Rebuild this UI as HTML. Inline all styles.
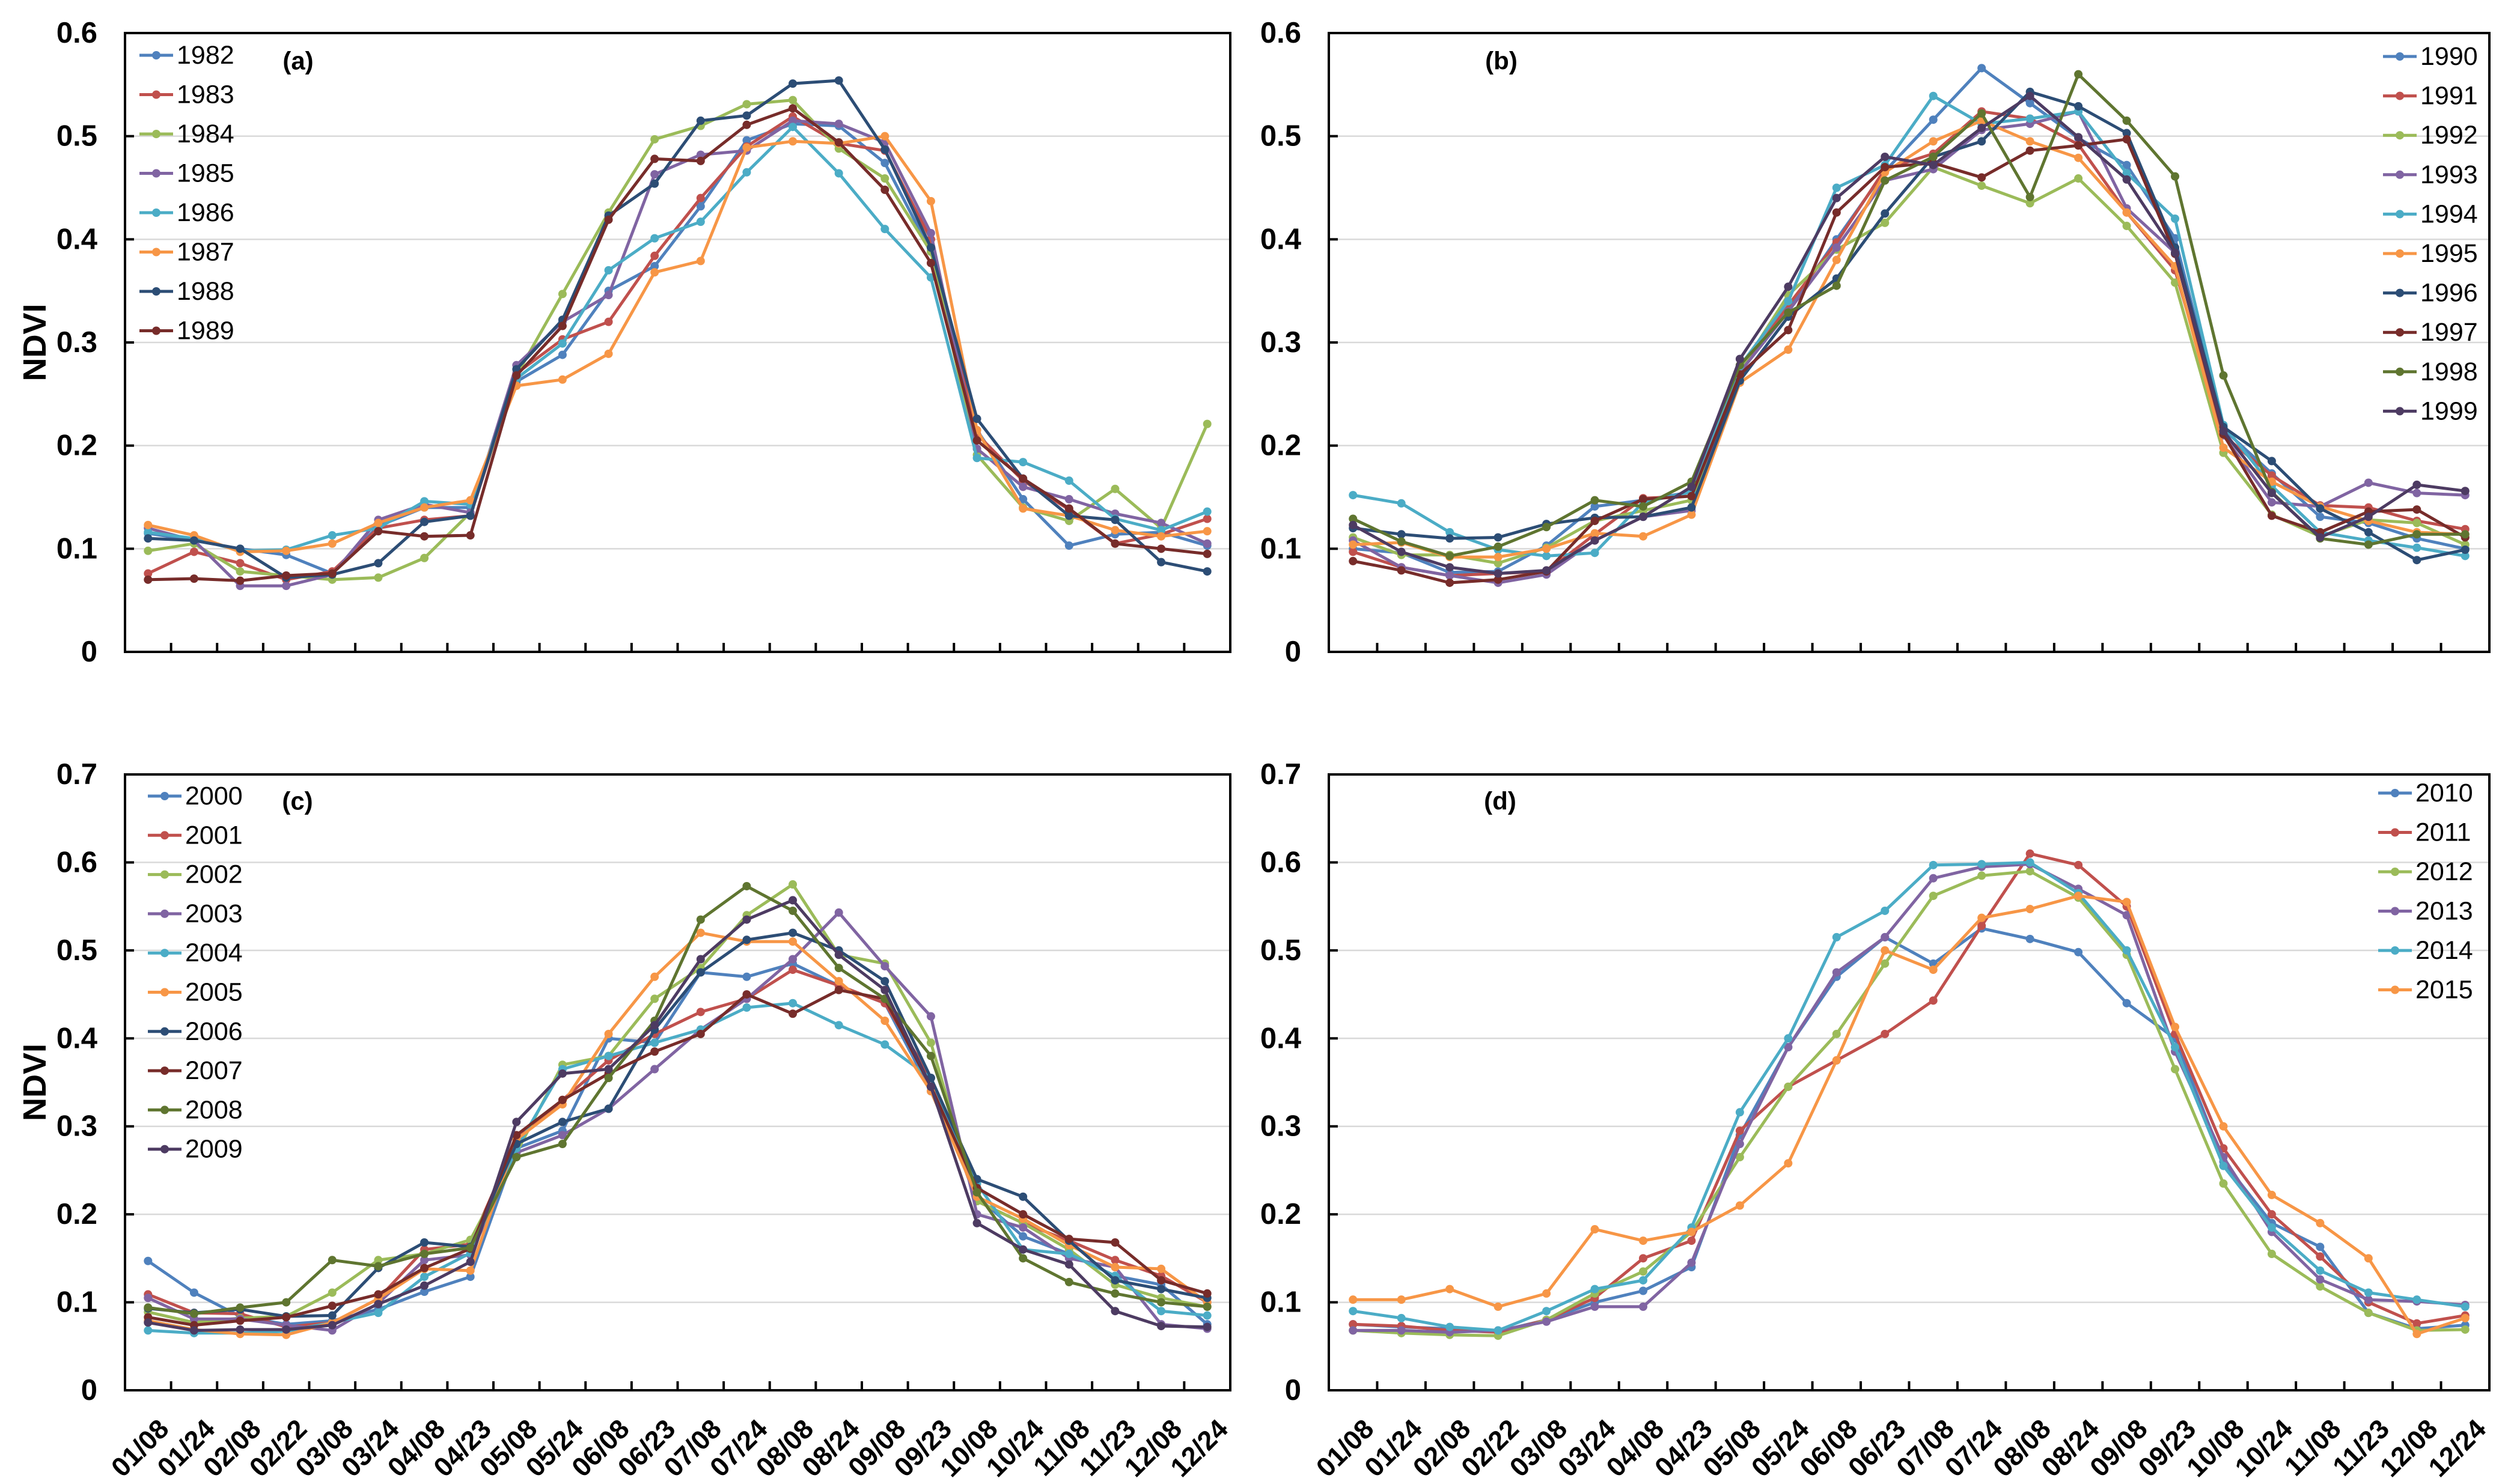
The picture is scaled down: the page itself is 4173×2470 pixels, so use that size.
<!DOCTYPE html>
<html><head><meta charset="utf-8"><title>NDVI</title>
<style>html,body{margin:0;padding:0;background:#fff}svg{display:block}text{font-family:"Liberation Sans",Arial,sans-serif}</style>
</head><body>
<svg id="chart" xmlns="http://www.w3.org/2000/svg" width="4173" height="2470" viewBox="0 0 4173 2470"></svg>
<script>
const dates = ["01/08","01/24","02/08","02/22","03/08","03/24","04/08","04/23","05/08","05/24","06/08","06/23","07/08","07/24","08/08","08/24","09/08","09/23","10/08","10/24","11/08","11/23","12/08","12/24"];
const yTicksAB = [0,0.1,0.2,0.3,0.4,0.5,0.6];
const yTicksCD = [0,0.1,0.2,0.3,0.4,0.5,0.6,0.7];
const yearsA = ["1982","1983","1984","1985","1986","1987","1988","1989"];
const valuesA = [
[0.115,0.108,0.1,0.094,0.076,0.122,0.14,0.14,0.262,0.288,0.35,0.374,0.432,0.496,0.512,0.51,0.474,0.388,0.215,0.148,0.103,0.114,0.116,0.103],
[0.076,0.097,0.086,0.07,0.078,0.12,0.128,0.132,0.27,0.303,0.32,0.384,0.44,0.49,0.519,0.493,0.486,0.4,0.211,0.166,0.138,0.105,0.114,0.129],
[0.098,0.105,0.078,0.074,0.07,0.072,0.091,0.135,0.268,0.347,0.426,0.497,0.51,0.531,0.535,0.488,0.459,0.388,0.191,0.14,0.127,0.158,0.12,0.221],
[0.12,0.108,0.064,0.064,0.075,0.128,0.143,0.135,0.278,0.32,0.346,0.463,0.482,0.486,0.515,0.512,0.494,0.406,0.197,0.16,0.148,0.134,0.125,0.105],
[0.116,0.11,0.098,0.099,0.113,0.12,0.146,0.143,0.265,0.299,0.37,0.401,0.417,0.465,0.509,0.464,0.41,0.363,0.188,0.184,0.166,0.129,0.118,0.136],
[0.123,0.113,0.097,0.098,0.105,0.125,0.14,0.147,0.258,0.264,0.289,0.368,0.379,0.489,0.495,0.493,0.5,0.437,0.215,0.139,0.132,0.118,0.112,0.117],
[0.11,0.108,0.1,0.072,0.075,0.086,0.126,0.132,0.274,0.322,0.423,0.454,0.515,0.52,0.551,0.554,0.487,0.392,0.226,0.168,0.132,0.128,0.087,0.078],
[0.07,0.071,0.069,0.074,0.076,0.117,0.112,0.113,0.268,0.316,0.419,0.478,0.476,0.511,0.527,0.494,0.448,0.377,0.205,0.168,0.139,0.105,0.1,0.095]];
const yearsB = ["1990","1991","1992","1993","1994","1995","1996","1997","1998","1999"];
const valuesB = [
[0.1,0.096,0.077,0.078,0.103,0.141,0.147,0.155,0.275,0.332,0.4,0.466,0.516,0.566,0.532,0.498,0.472,0.401,0.216,0.173,0.131,0.125,0.11,0.1],
[0.097,0.082,0.074,0.076,0.078,0.114,0.149,0.151,0.271,0.336,0.397,0.468,0.483,0.524,0.517,0.492,0.426,0.37,0.21,0.171,0.142,0.14,0.127,0.119],
[0.111,0.094,0.094,0.086,0.101,0.127,0.137,0.147,0.273,0.346,0.39,0.416,0.47,0.452,0.435,0.459,0.413,0.358,0.193,0.133,0.112,0.128,0.125,0.104],
[0.108,0.082,0.074,0.067,0.075,0.108,0.131,0.137,0.271,0.33,0.392,0.457,0.468,0.506,0.512,0.524,0.43,0.387,0.21,0.145,0.141,0.164,0.154,0.152],
[0.152,0.144,0.116,0.099,0.093,0.096,0.145,0.155,0.277,0.34,0.45,0.472,0.539,0.512,0.517,0.524,0.464,0.42,0.22,0.161,0.116,0.108,0.101,0.093],
[0.104,0.106,0.092,0.092,0.1,0.115,0.112,0.133,0.261,0.293,0.38,0.465,0.495,0.515,0.495,0.479,0.426,0.374,0.198,0.165,0.141,0.127,0.116,0.114],
[0.12,0.114,0.11,0.111,0.124,0.13,0.131,0.14,0.263,0.325,0.362,0.425,0.48,0.495,0.543,0.529,0.503,0.392,0.218,0.185,0.139,0.116,0.089,0.099],
[0.088,0.079,0.067,0.07,0.078,0.127,0.148,0.151,0.269,0.312,0.426,0.47,0.474,0.46,0.486,0.491,0.497,0.386,0.211,0.132,0.116,0.136,0.138,0.111],
[0.129,0.107,0.093,0.102,0.121,0.147,0.141,0.165,0.278,0.329,0.355,0.457,0.48,0.522,0.441,0.56,0.515,0.461,0.268,0.155,0.11,0.104,0.114,0.114],
[0.123,0.097,0.082,0.076,0.079,0.108,0.131,0.16,0.284,0.354,0.44,0.48,0.472,0.508,0.539,0.499,0.458,0.387,0.214,0.154,0.111,0.131,0.162,0.156]];
const yearsC = ["2000","2001","2002","2003","2004","2005","2006","2007","2008","2009"];
const valuesC = [
[0.147,0.111,0.084,0.075,0.079,0.092,0.112,0.129,0.275,0.295,0.4,0.395,0.475,0.47,0.485,0.46,0.44,0.34,0.22,0.175,0.155,0.13,0.12,0.075],
[0.109,0.088,0.087,0.072,0.077,0.104,0.16,0.166,0.285,0.33,0.375,0.405,0.43,0.445,0.478,0.46,0.44,0.355,0.215,0.19,0.17,0.148,0.13,0.1],
[0.089,0.077,0.082,0.084,0.111,0.148,0.155,0.171,0.27,0.37,0.38,0.445,0.48,0.54,0.575,0.495,0.485,0.395,0.215,0.19,0.16,0.12,0.105,0.095],
[0.105,0.081,0.081,0.074,0.068,0.099,0.148,0.154,0.27,0.29,0.32,0.365,0.41,0.445,0.49,0.543,0.482,0.425,0.2,0.185,0.15,0.14,0.075,0.07],
[0.068,0.065,0.065,0.067,0.077,0.088,0.129,0.156,0.275,0.365,0.38,0.395,0.41,0.435,0.44,0.415,0.393,0.355,0.235,0.16,0.155,0.13,0.09,0.085],
[0.079,0.069,0.064,0.063,0.077,0.104,0.138,0.136,0.285,0.325,0.405,0.47,0.52,0.51,0.51,0.465,0.42,0.34,0.22,0.195,0.165,0.14,0.138,0.1],
[0.093,0.088,0.092,0.084,0.085,0.139,0.168,0.163,0.28,0.305,0.32,0.41,0.475,0.512,0.52,0.5,0.465,0.355,0.24,0.22,0.17,0.125,0.115,0.105],
[0.083,0.074,0.079,0.083,0.096,0.109,0.139,0.161,0.29,0.33,0.36,0.385,0.405,0.45,0.428,0.455,0.445,0.345,0.23,0.2,0.172,0.168,0.125,0.11],
[0.094,0.087,0.094,0.1,0.148,0.141,0.155,0.162,0.265,0.28,0.355,0.42,0.535,0.573,0.545,0.48,0.445,0.38,0.225,0.15,0.123,0.11,0.1,0.095],
[0.077,0.068,0.069,0.069,0.074,0.098,0.119,0.146,0.305,0.36,0.365,0.415,0.49,0.535,0.557,0.495,0.455,0.345,0.19,0.16,0.143,0.09,0.073,0.072]];
const yearsD = ["2010","2011","2012","2013","2014","2015"];
const valuesD = [
[0.075,0.072,0.07,0.067,0.08,0.1,0.113,0.14,0.29,0.39,0.47,0.515,0.485,0.525,0.513,0.498,0.44,0.4,0.26,0.19,0.163,0.088,0.07,0.074],
[0.075,0.073,0.068,0.066,0.08,0.105,0.15,0.17,0.295,0.345,0.375,0.405,0.443,0.528,0.61,0.597,0.55,0.405,0.275,0.2,0.152,0.1,0.076,0.085],
[0.068,0.065,0.063,0.062,0.08,0.11,0.135,0.18,0.265,0.345,0.405,0.485,0.562,0.585,0.59,0.56,0.495,0.365,0.235,0.155,0.118,0.088,0.068,0.069],
[0.068,0.068,0.066,0.068,0.078,0.095,0.095,0.145,0.28,0.39,0.475,0.515,0.582,0.595,0.598,0.57,0.54,0.385,0.265,0.18,0.126,0.103,0.101,0.097],
[0.09,0.082,0.072,0.068,0.09,0.115,0.125,0.185,0.316,0.4,0.515,0.545,0.597,0.598,0.6,0.565,0.5,0.39,0.255,0.185,0.136,0.111,0.103,0.095],
[0.103,0.103,0.115,0.095,0.11,0.183,0.17,0.18,0.21,0.258,0.375,0.5,0.478,0.537,0.547,0.562,0.555,0.413,0.3,0.222,0.19,0.15,0.064,0.082]];

const colors = ["#4F81BD","#C0504D","#9BBB59","#8064A2","#4BACC6","#F79646","#2C4D75","#772C2A","#5F7530","#4D3B62"];
const NS = "http://www.w3.org/2000/svg";
const svg = document.getElementById("chart");
function mk(tag, attrs, parent){const e=document.createElementNS(NS,tag);for(const k in attrs)e.setAttribute(k,attrs[k]);(parent||svg).appendChild(e);return e;}

function drawPanel(p){
  const g = mk("g",{});
  
  
  const yMax = p.ticks[p.ticks.length-1];
  const cw = (p.x1-p.x0)/dates.length;
  const xs = i => p.x0 + cw*(i+0.5);
  const ys = v => p.yb - (v/yMax)*(p.yb-p.yt);
  // gridlines + y ticks
  p.ticks.forEach(t=>{
    const y = ys(t);
    if(t>0 && t<yMax){
      const gl = mk("line",{x1:p.x0,x2:p.x1,y1:y,y2:y,stroke:"#d9d9d9","stroke-width":2.5},g);
      
      
    }
    const tk = mk("line",{x1:p.x0,x2:p.x0+15,y1:y,y2:y,stroke:"#000","stroke-width":4},g);
    
    
    const tl = mk("text",{x:p.x0-46,y:y,"text-anchor":"end","dominant-baseline":"central","font-size":49,"font-weight":"bold",fill:"#000"},g);
    tl.textContent = t===0?"0":t.toFixed(1);
    
    
  });
  // x ticks
  for(let i=1;i<dates.length;i++){
    const x = p.x0 + cw*i;
    const tk = mk("line",{x1:x,x2:x,y1:p.yb,y2:p.yb-15,stroke:"#000","stroke-width":4},g);
    
    
  }
  if(p.xlabels){
    dates.forEach((d,i)=>{
      const ax = xs(i)+14, ay = p.yb+44;
      const t = mk("text",{x:ax,y:ay,"text-anchor":"end","dominant-baseline":"hanging","font-size":45,"font-weight":"bold",fill:"#000",transform:`rotate(-45 ${ax} ${ay})`},g);
      t.textContent = d;
      
      
    });
  }
  // series
  p.values.forEach((vals,si)=>{
    const sg = mk("g",{},g);
    
    
    const pts = vals.map((v,i)=>xs(i).toFixed(1)+","+ys(v).toFixed(1)).join(" ");
    const pl = mk("polyline",{points:pts,fill:"none",stroke:colors[si],"stroke-width":5,"stroke-linejoin":"round"},sg);
    
    
    vals.forEach((v,i)=>{
      const c = mk("circle",{cx:xs(i),cy:ys(v),r:7,fill:colors[si]},sg);
      
      
    });
  });
  // frame
  const fr = mk("rect",{x:p.x0,y:p.yt,width:p.x1-p.x0,height:p.yb-p.yt,fill:"none",stroke:"#000","stroke-width":4},g);
  
  
  // legend
  p.years.forEach((yr,si)=>{
    const y = p.ly + si*p.lstep;
    const lg = mk("g",{},g);
    
    
    mk("line",{x1:p.lx,x2:p.lx+56,y1:y,y2:y,stroke:colors[si],"stroke-width":5},lg);
    mk("circle",{cx:p.lx+28,cy:y,r:7,fill:colors[si]},lg);
    const t = mk("text",{x:p.lx+62,y:y,"dominant-baseline":"central","font-size":43,fill:"#000"},lg);
    t.textContent = yr;
  });
  const pl = mk("text",{x:p.labx,y:p.laby,"text-anchor":"middle","dominant-baseline":"central","font-size":42,"font-weight":"bold",fill:"#000"},g);
  pl.textContent = "("+p.id+")";
  
  
  if(p.ylabel){
    const cy = (p.yt+p.yb)/2;
    const yl = mk("text",{x:58,y:cy,"text-anchor":"middle","dominant-baseline":"central","font-size":54,"font-weight":"bold",fill:"#000",transform:`rotate(-90 58 ${cy})`},g);
    yl.textContent = "NDVI";
    
    
  }
}
drawPanel({id:"a",x0:208,x1:2047,yt:55,yb:1085,ticks:yTicksAB,years:yearsA,values:valuesA,lx:232,ly:92,lstep:65.5,labx:496,laby:101,ylabel:true,xlabels:false});
drawPanel({id:"b",x0:2211,x1:4142,yt:55,yb:1085,ticks:yTicksAB,years:yearsB,values:valuesB,lx:3965,ly:94,lstep:65.6,labx:2498,laby:101,ylabel:false,xlabels:false});
drawPanel({id:"c",x0:208,x1:2047,yt:1289,yb:2314,ticks:yTicksCD,years:yearsC,values:valuesC,lx:246,ly:1325,lstep:65.3,labx:495,laby:1333,ylabel:true,xlabels:true});
drawPanel({id:"d",x0:2211,x1:4142,yt:1289,yb:2314,ticks:yTicksCD,years:yearsD,values:valuesD,lx:3957,ly:1320,lstep:65.5,labx:2496,laby:1333,ylabel:false,xlabels:true});
</script>
</body></html>
